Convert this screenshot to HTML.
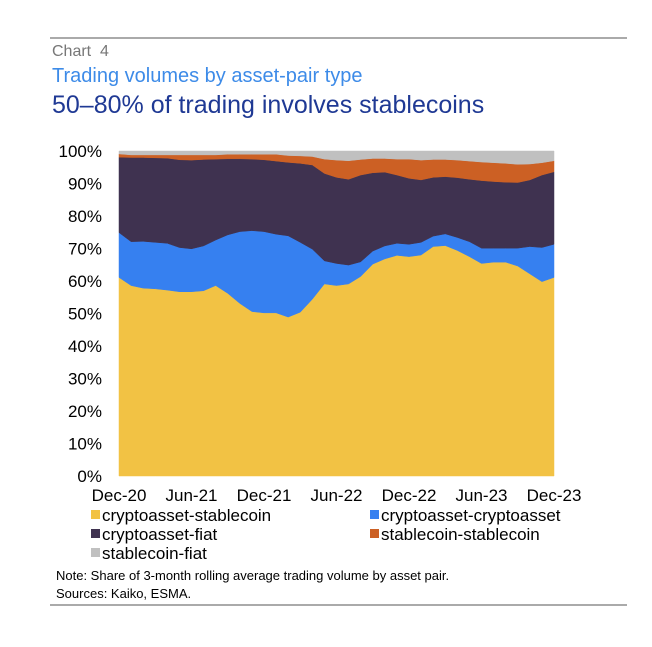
<!DOCTYPE html>
<html><head><meta charset="utf-8"><style>
body{margin:0;background:#fff;font-family:"Liberation Sans",Arial,sans-serif}
svg text{font-family:"Liberation Sans",Arial,sans-serif}
</style></head><body>
<svg id="c" width="652" height="642" viewBox="0 0 652 642">
<line x1="50" y1="38" x2="627" y2="38" stroke="#aaa" stroke-width="2"/>
<text x="52" y="56" font-size="16" fill="#777" xml:space="preserve">Chart  4</text>
<text x="52" y="82" font-size="20" fill="#3d8be8">Trading volumes by asset-pair type</text>
<text x="52" y="113" font-size="25" fill="#1f3994">50–80% of trading involves stablecoins</text>
<g id="plot"></g><g id="yax"></g><g id="xax"></g><g id="leg"></g>
<text x="56" y="580" font-size="13" fill="#000">Note: Share of 3-month rolling average trading volume by asset pair.</text>
<text x="56" y="598" font-size="13" fill="#000">Sources: Kaiko, ESMA.</text>
<line x1="50" y1="605" x2="627" y2="605" stroke="#aaa" stroke-width="2"/>
</svg>
<script>
const seriesNames=["cryptoasset-stablecoin","cryptoasset-cryptoasset","cryptoasset-fiat","stablecoin-stablecoin","stablecoin-fiat"];
const yellow=[61.1,58.6,57.8,57.6,57.2,56.7,56.7,57.0,58.6,56.2,53.1,50.6,50.2,50.2,48.9,50.4,54.4,59.1,58.6,59.1,61.4,65.2,66.8,67.9,67.5,68.0,70.6,70.9,69.4,67.5,65.4,65.8,65.8,64.6,62.2,59.8,61.1];
const blue=[13.8,13.5,14.4,14.3,14.4,13.6,13.2,13.8,14.0,18.0,22.1,24.9,25.0,24.2,25.0,21.5,15.4,7.1,6.8,5.8,4.5,4.0,4.0,3.7,3.8,3.9,3.2,3.6,4.0,4.6,4.7,4.3,4.3,5.5,8.4,10.5,10.2];
const purple=[23.2,25.9,25.8,26.0,26.2,27.0,27.3,26.6,24.9,23.4,22.4,22.0,22.1,22.5,22.6,24.3,25.9,26.9,26.5,26.4,26.7,24.1,22.7,21.0,20.3,19.2,18.1,17.6,18.4,19.2,20.8,20.5,20.3,20.2,20.5,22.3,22.3];
const orange=[1.0,0.8,0.8,0.9,1.0,1.5,1.6,1.4,1.3,1.4,1.4,1.5,1.7,2.1,2.1,2.3,2.6,4.4,5.3,5.7,4.8,4.4,4.2,4.9,5.9,6.1,5.5,5.3,5.4,5.6,5.7,5.8,5.8,5.6,4.9,3.8,3.4];
const gray=[0.9,1.2,1.2,1.2,1.2,1.2,1.2,1.2,1.2,1.0,1.0,1.0,1.0,1.0,1.4,1.5,1.7,2.5,2.8,3.0,2.6,2.3,2.3,2.5,2.5,2.8,2.6,2.6,2.8,3.1,3.4,3.6,3.8,4.1,4.0,3.6,3.0];
const xTickLabels=["Dec-20","Jun-21","Dec-21","Jun-22","Dec-22","Jun-23","Dec-23"];
const yTicks=[0,10,20,30,40,50,60,70,80,90,100];

const NS="http://www.w3.org/2000/svg";
const X0=119,X1=554,Y0=476,Y1=151;
const all=[yellow,blue,purple,orange,gray];
const colors=["#f2c244","#3680f0","#3f3250","#cc6024","#c0c0c0"];
const n=yellow.length;
const xs=i=>X0+(X1-X0)*i/(n-1);
const ys=v=>Y0-(Y0-Y1)*v/100;
function mk(t,a,p){const e=document.createElementNS(NS,t);for(const k in a)e.setAttribute(k,a[k]);p.appendChild(e);return e;}
const plot=document.getElementById('plot');
const totals=yellow.map((_,i)=>all.reduce((s,a)=>s+a[i],0));
let base=new Array(n).fill(0);
const keys=["area-cryptoasset-stablecoin","area-cryptoasset-cryptoasset","area-cryptoasset-fiat","area-stablecoin-stablecoin","area-stablecoin-fiat"];
all.forEach((arr,k)=>{
  const top=base.map((b,i)=>b+arr[i]/totals[i]*100);
  let d="M"+top.map((v,i)=>xs(i).toFixed(2)+","+ys(v).toFixed(2)).join("L");
  for(let i=n-1;i>=0;i--)d+="L"+xs(i).toFixed(2)+","+ys(base[i]).toFixed(2);
  const p=mk('path',{d:d+"Z",fill:colors[k],stroke:colors[k],'stroke-width':0.5},plot);
  
  
  base=top;
});
const yax=document.getElementById('yax');
yTicks.forEach(v=>{
  const t=mk('text',{x:102,y:ys(v)+6,'font-size':17,'text-anchor':'end',fill:'#000'},yax);
  t.textContent=v+"%";
  
  
});
const xax=document.getElementById('xax');
xTickLabels.forEach((l,j)=>{
  const t=mk('text',{x:xs(j*6),y:501,'font-size':17,'text-anchor':'middle',fill:'#000'},xax);
  t.textContent=l;
  
  
});
const leg=document.getElementById('leg');
const lp=[[91,521],[370,521],[91,540],[370,540],[91,559]];
seriesNames.forEach((s,k)=>{
  const g=mk('g',{},leg);
  
  
  mk('rect',{x:lp[k][0],y:lp[k][1]-11,width:9,height:9,fill:colors[k]},g);
  const t=mk('text',{x:lp[k][0]+11,y:lp[k][1],'font-size':17,fill:'#000'},g);
  t.textContent=s;
});
</script>
</body></html>
